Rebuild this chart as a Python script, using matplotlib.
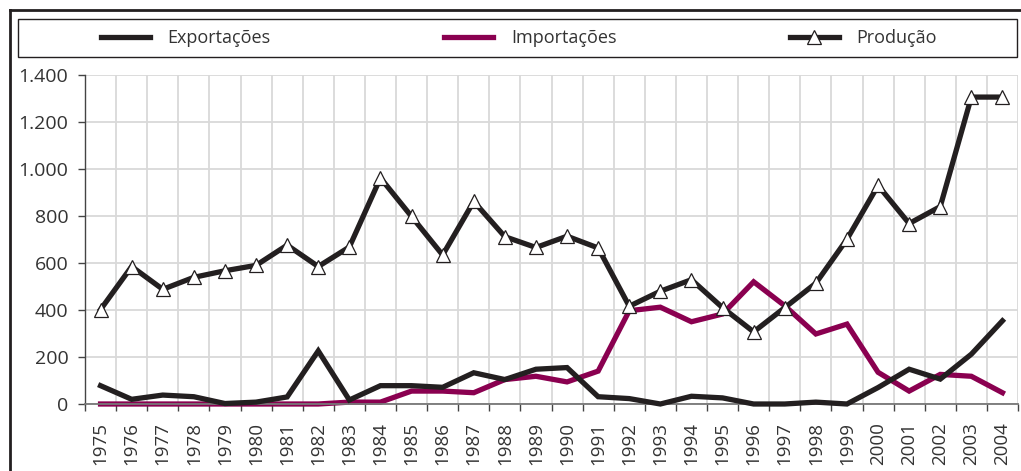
import numpy as np
import matplotlib
matplotlib.use("Agg")
import matplotlib.pyplot as plt
from matplotlib.lines import Line2D
from matplotlib.patches import Rectangle

anos = [str(a) for a in range(1975, 2005)]

exportacoes = [78, 20, 38, 31, 2, 8, 30, 226, 17, 78, 78, 71, 133, 104, 148, 155, 31, 23, 0,
               33, 26, 0, 0, 8, 0, 70, 148, 106, 212, 354]
importacoes = [0, 0, 0, 0, 0, 0, 0, 0, 8, 8, 55, 55, 48, 104, 118, 94, 140, 397, 412,
               350, 383, 520, 418, 298, 340, 135, 55, 126, 118, 48]
producao = [402, 585, 488, 539, 567, 590, 676, 585, 668, 962, 798, 634, 862, 712, 666, 714,
            664, 416, 480, 529, 410, 307, 410, 514, 701, 930, 768, 840, 1306, 1306]

preto = "#231f20"
roxo = "#8a0050"
cinza_txt = "#333333"

plt.rcParams['font.family'] = ['Open Sans', 'DejaVu Sans']

fig = plt.figure(figsize=(10.21, 4.71), dpi=100)
ax = fig.add_axes([85 / 1021, 1 - 404 / 471, (1018 - 85) / 1021, (404 - 75) / 471])

x = np.arange(len(anos))
ax.plot(x, exportacoes, color=preto, lw=3.8, solid_joinstyle='miter', zorder=3,
        clip_on=False, label='Exportações')
ax.plot(x, importacoes, color=roxo, lw=3.8, solid_joinstyle='miter', zorder=2,
        clip_on=False, label='Importações')
ax.plot(x, producao, color=preto, lw=3.8, solid_joinstyle='miter', marker='^', ms=10.5,
        mfc='white', mec=preto, mew=0.9, zorder=4, clip_on=False, label='Produção')

ax.set_xlim(-0.5, len(anos) - 0.5)
ax.set_ylim(0, 1400)
ax.set_yticks(range(0, 1401, 200))
ax.set_yticklabels(['0', '200', '400', '600', '800', '1.000', '1.200', '1.400'])
ax.set_xticks(x)
ax.set_xticklabels(anos, rotation=90)
ax.set_xticks(np.arange(-0.5, len(anos), 1), minor=True)

ax.grid(True, axis='y', color='#d9d9d9', lw=1.3, zorder=0)
ax.grid(True, axis='x', which='minor', color='#d9d9d9', lw=1.3, zorder=0)
ax.set_axisbelow(True)

ax.tick_params(axis='x', which='major', length=0, pad=13, labelsize=13.5, labelcolor=cinza_txt)
ax.tick_params(axis='x', which='minor', length=5, width=1, color='#444444', direction='out')
ax.tick_params(axis='y', length=5, width=1, color='#444444', pad=7, labelsize=14, labelcolor=cinza_txt)

for s in ['top', 'right']:
    ax.spines[s].set_visible(False)
ax.spines['left'].set_color('#444444')
ax.spines['bottom'].set_color('#777777')
ax.spines['left'].set_linewidth(1)
ax.spines['bottom'].set_linewidth(1.3)

# moldura externa
fig.add_artist(Line2D([9.5 / 1021, 9.5 / 1021], [0, 1 - 10 / 471], color=preto, lw=2,
                      transform=fig.transFigure))
fig.add_artist(Line2D([9.5 / 1021, 1], [1 - 10 / 471, 1 - 10 / 471], color=preto, lw=2,
                      transform=fig.transFigure))
# caixa da legenda
fig.add_artist(Rectangle((18 / 1021, 1 - 57 / 471), (1017 - 18) / 1021, 38 / 471,
                         fill=False, ec=preto, lw=1, transform=fig.transFigure))

leg = fig.legend(loc='center', bbox_to_anchor=(519 / 1021, 1 - 38 / 471), ncol=3,
                 frameon=False, fontsize=13, handlelength=2.7, handletextpad=1.0,
                 columnspacing=9.6, labelcolor=cinza_txt)

fig.savefig("out.png", dpi=100)
